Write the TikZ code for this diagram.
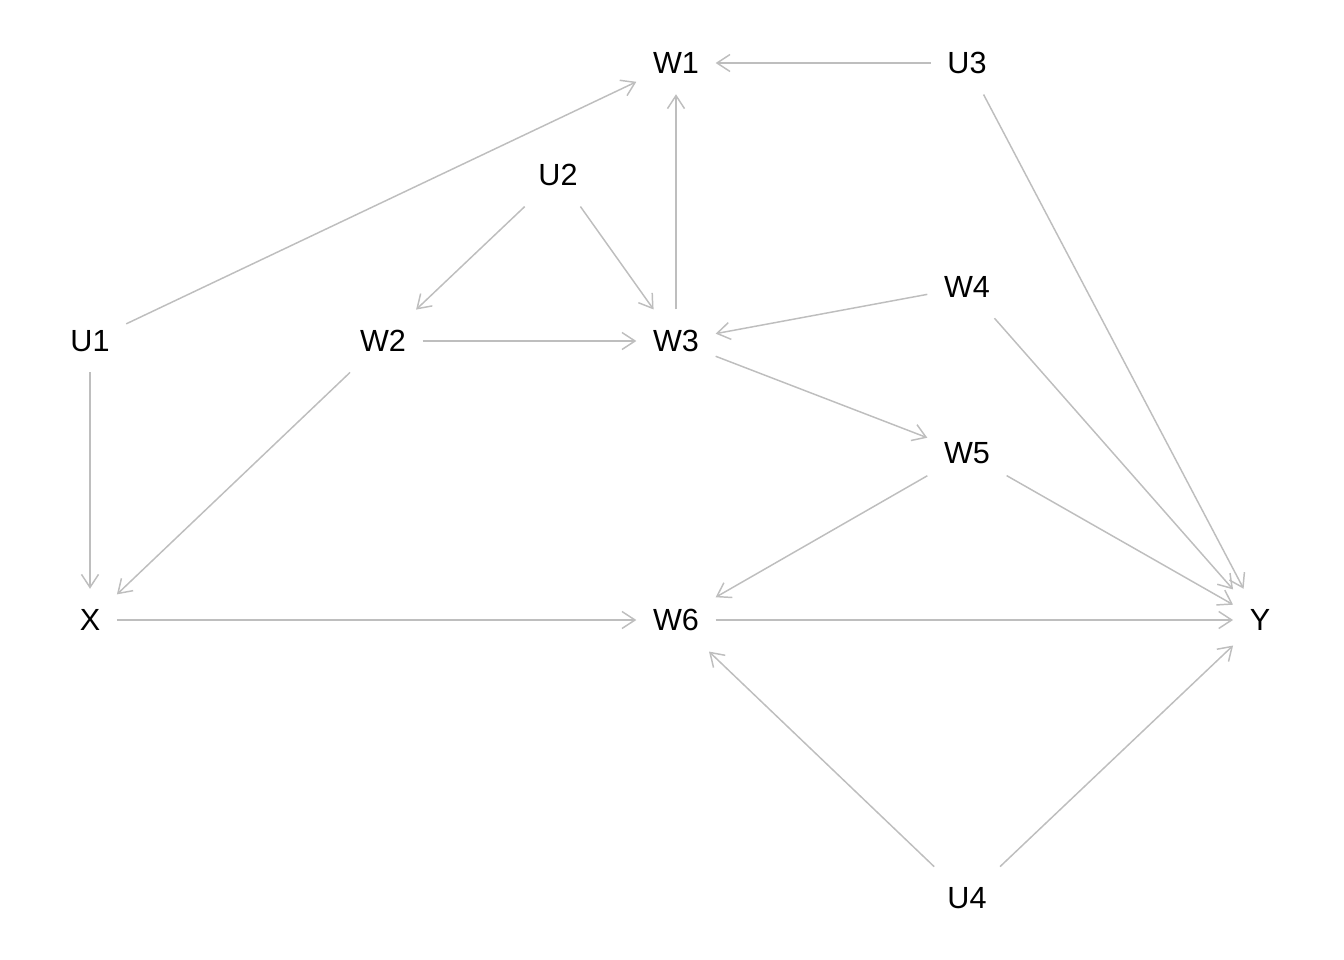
\documentclass[tikz,border=0pt]{standalone}
\usepackage{fontspec}
\setmainfont{Liberation Sans}
\usepackage{tikz}
\usetikzlibrary{arrows.meta}
\tikzset{
var/.style={shape=rectangle, inner xsep=0.16cm, inner ysep=0.2cm, font=\fontsize{8.7}{10}\selectfont},
edge/.style={draw={rgb,255:red,190;green,190;blue,190}, line width=0.42pt, -{Straight Barb[length=0.13cm,width=0.17cm]}}}

\begin{document}
\begin{tikzpicture}[x=0.01cm, y=-0.01cm]
    \useasboundingbox (0,0) rectangle (1344,960);

                \node[var] (W1) at (676,63) {W1};
                \node[var] (U3) at (967,63) {U3};
                \node[var] (U2) at (558,175) {U2};
                \node[var] (U1) at (90,341) {U1};
                \node[var] (W2) at (383,341) {W2};
                \node[var] (W3) at (676,341) {W3};
                \node[var] (W4) at (967,287) {W4};
                \node[var] (W5) at (967,453) {W5};
                \node[var] (X) at (90,620) {X};
                \node[var] (W6) at (676,620) {W6};
                \node[var] (Y) at (1260,620) {Y};
                \node[var] (U4) at (967,898) {U4};

                \draw[edge] (U3) -- (W1);
                \draw[edge] (U1) -- (W1);
                \draw[edge] (W3) -- (W1);
                \draw[edge] (U2) -- (W2);
                \draw[edge] (U2) -- (W3);
                \draw[edge] (W2) -- (W3);
                \draw[edge] (W4) -- (W3);
                \draw[edge] (W3) -- (W5);
                \draw[edge] (U1) -- (X);
                \draw[edge] (W2) -- (X);
                \draw[edge] (X) -- (W6);
                \draw[edge] (W5) -- (W6);
                \draw[edge] (U4) -- (W6);
                \draw[edge] (U3) -- (Y);
                \draw[edge] (W4) -- (Y);
                \draw[edge] (W5) -- (Y);
                \draw[edge] (W6) -- (Y);
                \draw[edge] (U4) -- (Y);

            \end{tikzpicture}
\end{document}
